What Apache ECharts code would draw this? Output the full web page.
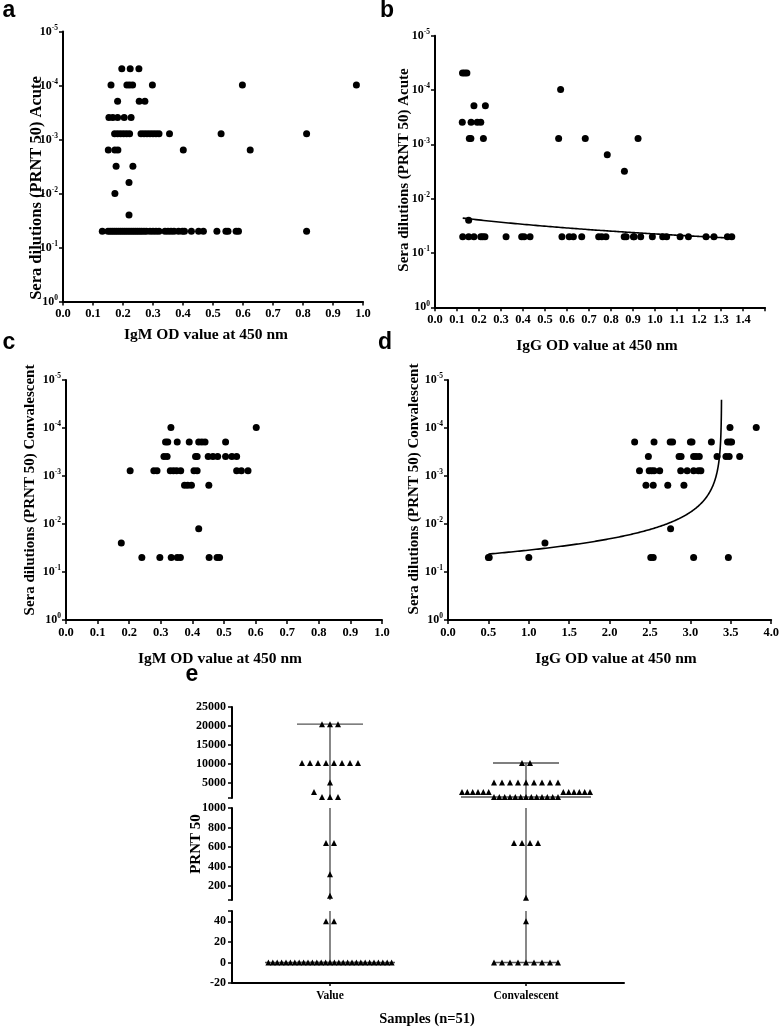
<!DOCTYPE html>
<html><head><meta charset="utf-8">
<script src="https://cdn.jsdelivr.net/npm/echarts@6/dist/echarts.min.js"></script>
<style>html,body{margin:0;padding:0;background:#fff}#c{width:782px;height:1029px}</style>
</head><body><div id="c"></div>
<script>
// ---------------- DATA ----------------
// Rows: [PRNT50 titer, [OD values of the points on that row]]; plotted at dilution 1/titer
const panelA = [
  [20480, [0.196, 0.224, 0.253]],
  [10240, [0.16, 0.213, 0.222, 0.232, 0.298, 0.598, 0.978]],
  [5120,  [0.182, 0.254, 0.273]],
  [2560,  [0.153, 0.166, 0.182, 0.204, 0.227]],
  [1280,  [0.172, 0.182, 0.192, 0.202, 0.212, 0.222, 0.26, 0.27, 0.28, 0.29, 0.30, 0.31, 0.32, 0.355, 0.527, 0.812]],
  [640,   [0.151, 0.173, 0.183, 0.401, 0.624]],
  [320,   [0.177, 0.233]],
  [160,   [0.22]],
  [100,   [0.173]],
  [40,    [0.22]],
  [20,    [0.131, 0.15, 0.157, 0.164, 0.171, 0.178, 0.185, 0.192, 0.199, 0.206, 0.213, 0.22, 0.227, 0.234, 0.241, 0.248, 0.255, 0.262, 0.27, 0.278, 0.29, 0.30, 0.31, 0.32, 0.34, 0.35, 0.36, 0.37, 0.385, 0.398, 0.405, 0.428, 0.452, 0.468, 0.513, 0.543, 0.55, 0.577, 0.585, 0.812]]
];
const panelB = [
  [20480, [0.125, 0.135, 0.145]],
  [10240, [0.571]],
  [5120,  [0.177, 0.229]],
  [2560,  [0.124, 0.164, 0.192, 0.208]],
  [1280,  [0.156, 0.163, 0.22, 0.562, 0.683, 0.923]],
  [640,   [0.783]],
  [320,   [0.861]],
  [40,    [0.153]],
  [20,    [0.126, 0.153, 0.177, 0.208, 0.217, 0.227, 0.323, 0.394, 0.405, 0.432, 0.577, 0.61, 0.629, 0.667, 0.744, 0.758, 0.777, 0.86, 0.869, 0.902, 0.905, 0.935, 0.988, 1.035, 1.053, 1.114, 1.152, 1.232, 1.268, 1.329, 1.349]]
];
const panelC = [
  [10240, [0.332, 0.602]],
  [5120,  [0.315, 0.322, 0.352, 0.39, 0.42, 0.43, 0.44, 0.505]],
  [2560,  [0.31, 0.32, 0.41, 0.415, 0.45, 0.465, 0.48, 0.505, 0.525, 0.54]],
  [1280,  [0.203, 0.278, 0.288, 0.33, 0.34, 0.35, 0.363, 0.405, 0.415, 0.54, 0.555, 0.576]],
  [640,   [0.375, 0.385, 0.397, 0.452]],
  [80,    [0.42]],
  [40,    [0.175]],
  [20,    [0.24, 0.297, 0.333, 0.352, 0.362, 0.453, 0.478, 0.486]]
];
const panelD = [
  [10240, [3.49, 3.815]],
  [5120,  [2.31, 2.55, 2.75, 2.78, 3.0, 3.02, 3.26, 3.46, 3.49, 3.51]],
  [2560,  [2.48, 2.86, 2.885, 3.04, 3.07, 3.11, 3.33, 3.44, 3.48, 3.61]],
  [1280,  [2.37, 2.49, 2.52, 2.55, 2.62, 2.88, 2.96, 3.04, 3.10, 3.13]],
  [640,   [2.45, 2.54, 2.72, 2.92]],
  [80,    [2.755]],
  [40,    [1.2]],
  [20,    [0.5, 0.51, 1.0, 2.51, 2.54, 3.04, 3.47]]
];
// Linear fits (dilution = intercept + slope * OD)
const fitB = {intercept: 0.01966, slope: 0.02494, from: 0.126, to: 1.349};
const fitD = {intercept: 0.04965, slope: -0.01466, from: 0.5, to: 3.385};

// Panel e: PRNT 50 values per sample group
const eCategories = ['Value', 'Convalescent'];
const eValue = [20480, 20480, 20480,
  10240, 10240, 10240, 10240, 10240, 10240, 10240, 10240,
  5120, 2560, 1280, 1280, 1280, 640, 640, 320, 100, 40, 40,
  0, 0, 0, 0, 0, 0, 0, 0, 0, 0, 0, 0, 0, 0, 0, 0, 0, 0, 0, 0, 0, 0, 0, 0, 0, 0, 0, 0, 0];
const eConv = [10240, 10240,
  5120, 5120, 5120, 5120, 5120, 5120, 5120, 5120, 5120,
  2560, 2560, 2560, 2560, 2560, 2560, 2560, 2560, 2560, 2560, 2560, 2560,
  1280, 1280, 1280, 1280, 1280, 1280, 1280, 1280, 1280, 1280, 1280, 1280, 1280,
  640, 640, 640, 640, 80, 40,
  0, 0, 0, 0, 0, 0, 0, 0, 0];
// broken y axis segments of panel e: [min, max], label ticks
const eSegRanges = [[1000, 25000], [56, 1000], [-20, 50]];
const eSegLabels = [[5000, 10000, 15000, 20000, 25000], [200, 400, 600, 800, 1000], [-20, 0, 20, 40]];

// ---------------- CHART ----------------
const F = 'Liberation Serif';
const SANS = 'Liberation Sans';
const chart = echarts.init(document.getElementById('c'));

const rowsToPoints = rows => rows.flatMap(([t, xs]) => xs.map(x => [x, 1 / t]));

const grids = [
  {left: 63, top: 31.5, width: 300, height: 270},
  {left: 435, top: 35.7, width: 330, height: 271.6},
  {left: 66, top: 380, width: 316, height: 240},
  {left: 448, top: 380, width: 327, height: 240},
  {left: 232, top: 707, width: 392, height: 91},
  {left: 232, top: 808, width: 392, height: 92},
  {left: 232, top: 911, width: 392, height: 72}
];

const axisLine = {show: true, onZero: false, lineStyle: {color: '#000', width: 2}};
const axisTick = {show: true, length: 4, lineStyle: {color: '#000', width: 1.5}};
const tickFont = {fontFamily: F, fontWeight: 'bold', color: '#000'};

function logY(gi) {
  return {
    type: 'log', logBase: 10, gridIndex: gi, inverse: true, min: 1e-5, max: 1,
    axisLine, axisTick, splitLine: {show: false}, minorTick: {show: false},
    axisLabel: {
      margin: 5, hideOverlap: false,
      formatter: v => '{b|10}{s|' + Math.round(Math.log10(v)) + '}',
      rich: {
        b: {fontFamily: F, fontWeight: 'bold', fontSize: 12, color: '#000', lineHeight: 15},
        s: {fontFamily: F, fontWeight: 'bold', fontSize: 7.5, color: '#000', lineHeight: 8, verticalAlign: 'top'}
      }
    }
  };
}
function valX(gi, max, interval, hideLast) {
  return {
    type: 'value', gridIndex: gi, min: 0, max, interval,
    axisLine, axisTick, splitLine: {show: false},
    axisLabel: Object.assign({fontSize: 12.5, margin: 6, hideOverlap: false,
      formatter: v => (hideLast && v > max - interval / 2) ? '' : v.toFixed(1)}, tickFont)
  };
}

const xAxes = [
  valX(0, 1, 0.1), valX(1, 1.5, 0.1, true), valX(2, 1, 0.1), valX(3, 4, 0.5),
  {type: 'category', gridIndex: 4, data: eCategories, show: false},
  {type: 'category', gridIndex: 5, data: eCategories, show: false},
  {type: 'category', gridIndex: 6, data: eCategories, axisLine,
    axisTick: {show: true, alignWithLabel: true, length: 3, lineStyle: {color: '#000', width: 1.5}},
    axisLabel: Object.assign({fontSize: 11.5, margin: 7}, tickFont)}
];
const yAxes = [logY(0), logY(1), logY(2), logY(3)].concat(eSegRanges.map((r, i) => ({
  type: 'value', gridIndex: 4 + i, min: r[0], max: r[1], axisLine,
  axisTick: Object.assign({}, axisTick, {customValues: [r[0]].concat(eSegLabels[i]).concat([r[1]])}),
  splitLine: {show: false},
  axisLabel: Object.assign({fontSize: 12, margin: 6, customValues: eSegLabels[i], hideOverlap: false,
    formatter: v => String(v)}, tickFont)
})));

function scatterSeries(i, rows) {
  return {type: 'scatter', xAxisIndex: i, yAxisIndex: i, symbol: 'circle', symbolSize: 7,
    itemStyle: {color: '#000', opacity: 1}, silent: true, data: rowsToPoints(rows)};
}
function fitSeries(i, fit) {
  return {
    type: 'custom', xAxisIndex: i, yAxisIndex: i, silent: true, z: 3, clip: false,
    data: [[fit.from, fit.intercept + fit.slope * fit.from]],
    renderItem: (params, api) => {
      const pts = [];
      const N = 300;
      for (let k = 0; k <= N; k++) {
        const t = k / N;
        const x = fit.from + (fit.to - fit.from) * (1 - Math.pow(1 - t, 3));
        pts.push(api.coord([x, fit.intercept + fit.slope * x]));
      }
      return {type: 'polyline', shape: {points: pts}, style: {stroke: '#000', lineWidth: 1.6, fill: null}};
    }
  };
}

function stats(vals) {
  const s = vals.slice().sort((a, b) => a - b);
  const n = s.length;
  const med = n % 2 ? s[(n - 1) / 2] : (s[n / 2 - 1] + s[n / 2]) / 2;
  return [s[0], s[n - 1], med];
}
const eColumns = [eValue, eConv];
function rangeSeries(seg) {
  const [lo, hi] = eSegRanges[seg];
  return {
    type: 'custom', xAxisIndex: 4 + seg, yAxisIndex: 4 + seg, silent: true, z: 1, clip: false,
    encode: {x: 0, y: 1},
    data: eColumns.map((vals, i) => [i].concat(stats(vals))),
    renderItem: (params, api) => {
      const cat = api.value(0), mn = api.value(1), mx = api.value(2), md = api.value(3);
      const style = {stroke: '#555', lineWidth: 1.4};
      const cx = api.coord([cat, lo])[0];
      const children = [];
      const a = Math.max(mn, lo), b = Math.min(mx, hi);
      if (b >= a) {
        children.push({type: 'line', shape: {x1: cx, y1: api.coord([cat, b])[1], x2: cx, y2: api.coord([cat, a])[1]}, style});
      }
      [[mx, 33], [mn, 33], [md, 65]].forEach(([v, h]) => {
        if (v >= lo && v <= hi) {
          const y = api.coord([cat, v])[1];
          children.push({type: 'line', shape: {x1: cx - h, y1: y, x2: cx + h, y2: y}, style});
        }
      });
      return {type: 'group', children};
    }
  };
}

function txt(text, x, y, size, rot, family) {
  return {type: 'text', x, y, rotation: rot || 0, silent: true,
    style: {text, fill: '#000', fontFamily: family || F, fontWeight: 'bold', fontSize: size,
      align: 'center', verticalAlign: 'middle'}};
}
const R = Math.PI / 2;
const graphics = [
  txt('a', 9, 11, 23, 0, SANS), txt('b', 387, 11, 23, 0, SANS),
  txt('c', 9, 343, 23, 0, SANS), txt('d', 385, 343, 23, 0, SANS), txt('e', 192, 675, 23, 0, SANS),
  txt('IgM OD value at 450 nm', 206, 335, 15.5),
  txt('IgG OD value at 450 nm', 597, 346, 15.5),
  txt('IgM OD value at 450 nm', 220, 659, 15.5),
  txt('IgG OD value at 450 nm', 616, 659, 15.5),
  txt('Sera dilutions (PRNT 50) Acute', 37, 188, 16.5, R),
  txt('Sera dilutions (PRNT 50) Acute', 404, 170, 15, R),
  txt('Sera dilutions (PRNT 50) Convalescent', 30, 490, 15, R),
  txt('Sera dilutions (PRNT 50) Convalescent', 414, 489, 15, R),
  txt('PRNT 50', 196, 844, 15, R),
  txt('Samples (n=51)', 427, 1019, 14.5)
];

const baseSeries = [
  scatterSeries(0, panelA), scatterSeries(1, panelB), scatterSeries(2, panelC), scatterSeries(3, panelD),
  fitSeries(1, fitB), fitSeries(3, fitD),
  rangeSeries(0), rangeSeries(1), rangeSeries(2)
];

chart.setOption({
  animation: false,
  backgroundColor: '#fff',
  grid: grids,
  xAxis: xAxes,
  yAxis: yAxes,
  graphic: graphics,
  series: baseSeries
});

// column-scatter layout for panel e (spread points sharing a value, avoid overlapping rows)
function segOf(v) { return v >= eSegRanges[0][0] ? 0 : (v >= eSegRanges[1][0] ? 1 : 2); }
function layoutColumn(vals, cat) {
  const counts = new Map();
  vals.forEach(v => counts.set(v, (counts.get(v) || 0) + 1));
  const groups = [...counts.entries()].map(([v, n]) => {
    const seg = segOf(v);
    return {v, n, seg, py: chart.convertToPixel({gridIndex: 4 + seg}, [cat, v])[1]};
  });
  groups.sort((a, b) => b.n - a.n);
  const placed = [];
  const items = [];
  groups.forEach(g => {
    const s = g.n > 9 ? Math.max(4.4, 64 / (g.n - 1)) : 8;
    const offs = [];
    const clash = placed.find(p => p.seg === g.seg && Math.abs(p.py - g.py) < 7);
    if (clash) {
      let l = clash.lo, r = clash.hi;
      for (let i = 0; i < g.n; i++) {
        if (i < Math.ceil(g.n / 2)) { l -= clash.s; offs.push(l); } else { r += clash.s; offs.push(r); }
      }
    } else {
      for (let i = 0; i < g.n; i++) offs.push((i - (g.n - 1) / 2) * s);
    }
    placed.push({seg: g.seg, py: g.py, s, lo: Math.min(...offs), hi: Math.max(...offs)});
    offs.forEach(o => items.push({seg: g.seg, value: [cat, g.v], symbolOffset: [o, 0]}));
  });
  return items;
}
const eItems = layoutColumn(eValue, 0).concat(layoutColumn(eConv, 1));
const eSeries = [0, 1, 2].map(seg => ({
  type: 'scatter', xAxisIndex: 4 + seg, yAxisIndex: 4 + seg, symbol: 'triangle', symbolSize: 6,
  itemStyle: {color: '#000', opacity: 1}, silent: true, z: 4, clip: false,
  data: eItems.filter(it => it.seg === seg).map(it => ({value: it.value, symbolOffset: it.symbolOffset}))
}));
chart.setOption({series: baseSeries.concat(eSeries)});
</script>
</body></html>
